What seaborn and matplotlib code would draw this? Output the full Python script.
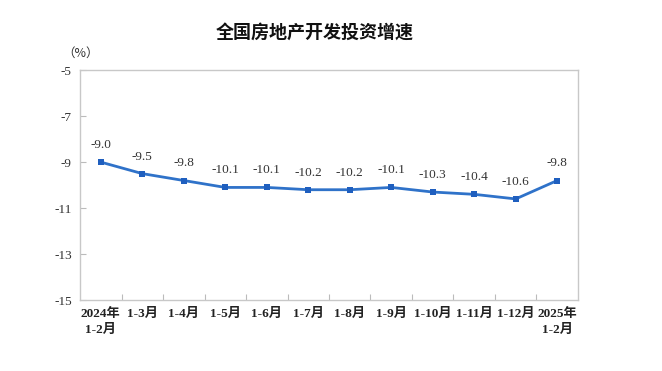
import matplotlib
matplotlib.use("Agg")
import matplotlib.pyplot as plt
import seaborn as sns
import pandas as pd

title = "全国房地产开发投资增速"
categories = ["2024年\n1-2月", "1-3月", "1-4月", "1-5月", "1-6月", "1-7月", "1-8月",
              "1-9月", "1-10月", "1-11月", "1-12月", "2025年\n1-2月"]
values = [-9.0, -9.5, -9.8, -10.1, -10.1, -10.2, -10.2, -10.1, -10.3, -10.4, -10.6, -9.8]
yticks = [-5, -7, -9, -11, -13, -15]

sns.set_theme(style="white")
plt.rcParams['font.family'] = ['Liberation Serif', 'Noto Sans CJK SC', 'DejaVu Sans']

df = pd.DataFrame({"idx": range(len(categories)), "value": values})

fig = plt.figure(figsize=(6.62, 3.71), dpi=100)
ax = fig.add_axes([0.121, 0.191, 0.752, 0.620])

color = "#2F72C9"
sns.lineplot(data=df, x="idx", y="value", ax=ax, color=color, linewidth=2.0,
             marker="s", markersize=5, markeredgewidth=0, markerfacecolor="#1F5FBF")

for i, v in enumerate(values):
    ax.annotate(f"{v:.1f}", (i, v), xytext=(0, 8), textcoords="offset points",
                ha="center", va="bottom", fontsize=9.5, color="#333333")

ax.set_xlim(-0.5, len(categories) - 0.5)
ax.set_ylim(-15, -5)
ax.set_yticks(yticks)
ax.set_yticklabels([str(t) for t in yticks], fontsize=9.5, color="#333333")
ax.set_xticks([i + 0.5 for i in range(len(categories) - 1)])
ax.set_xticklabels([])
for i, c in enumerate(categories):
    ax.text(i, -15.35, c, ha="center", va="top", fontsize=9.5, color="#222222",
            family=['Liberation Serif', 'Noto Sans CJK SC'], fontweight="semibold", linespacing=1.4)
ax.set_xlabel("")
ax.set_ylabel("")
ax.tick_params(axis="both", direction="in", length=4, color="#BBBBBB", width=0.8, left=True, bottom=True)
ax.tick_params(axis="y", pad=6)
for s in ax.spines.values():
    s.set_color("#C8C8C8")
    s.set_linewidth(1.0)

fig.text(0.121, 0.857, "（%）", ha="center", va="center", fontsize=9, color="#333333",
         family=['Noto Sans CJK SC'])
fig.text(0.476, 0.913, title, ha="center", va="center", fontsize=13, color="#111111",
         family=['Noto Sans CJK SC'], fontweight="bold")

fig.savefig("out.png", dpi=100, facecolor="white")
